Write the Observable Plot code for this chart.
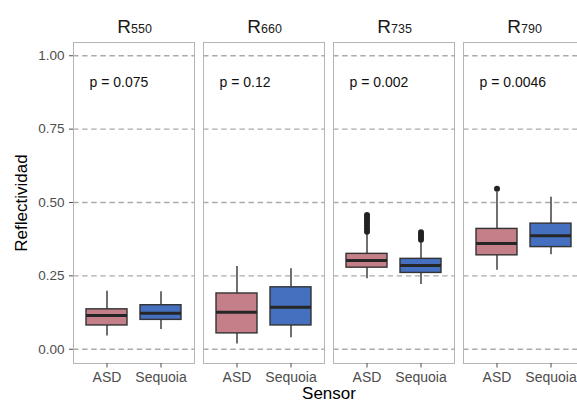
<!DOCTYPE html>
<html>
<head>
<meta charset="utf-8">
<script src="https://cdn.jsdelivr.net/npm/d3@7"></script>
<script src="https://cdn.jsdelivr.net/npm/@observablehq/plot@0.6"></script>
<style>
  html, body { margin: 0; padding: 0; background: #fff; overflow: hidden; width: 577px; height: 403px; }
  #chart { position: relative; width: 590px; }
  #chart svg { max-width: none !important; width: 590px; height: 410px !important; }
</style>
</head>
<body>
<div id="chart"></div>
<script>
// ---- data ----
const panels = ["R550", "R660", "R735", "R790"];
const panelNums = ["550", "660", "735", "790"];
const sensors = ["ASD", "Sequoia"];
const pValues = ["p = 0.075", "p = 0.12", "p = 0.002", "p = 0.0046"];
const yTicks = [0, 0.25, 0.5, 0.75, 1];

// box statistics, order: panel x sensor
const boxPanel  = ["R550", "R550", "R660", "R660", "R735", "R735", "R790", "R790"];
const boxSensor = ["ASD", "Sequoia", "ASD", "Sequoia", "ASD", "Sequoia", "ASD", "Sequoia"];
const whiskLo   = [0.045, 0.067, 0.018, 0.039, 0.240, 0.221, 0.269, 0.322];
const q1        = [0.081, 0.100, 0.054, 0.081, 0.278, 0.260, 0.320, 0.348];
const median    = [0.115, 0.123, 0.126, 0.143, 0.302, 0.285, 0.360, 0.387];
const q3        = [0.136, 0.150, 0.190, 0.211, 0.325, 0.308, 0.410, 0.428];
const whiskHi   = [0.198, 0.196, 0.282, 0.274, 0.394, 0.365, 0.535, 0.518];

// outliers
const outPanel  = ["R735", "R735", "R735", "R735", "R735", "R735", "R735", "R735", "R735", "R735", "R735", "R790"];
const outSensor = ["ASD", "ASD", "ASD", "ASD", "ASD", "ASD", "ASD", "Sequoia", "Sequoia", "Sequoia", "Sequoia", "ASD"];
const outValue  = [0.400, 0.410, 0.420, 0.430, 0.440, 0.450, 0.457, 0.373, 0.382, 0.390, 0.399, 0.547];

const sensorColors = ["#c47f89", "#4470bf"];

// ---- tables built from the arrays ----
const boxes = boxPanel.map((p, i) => ({
  panel: p, sensor: boxSensor[i], lo: whiskLo[i], q1: q1[i], med: median[i], q3: q3[i], hi: whiskHi[i]
}));
const outliers = outPanel.map((p, i) => ({panel: p, sensor: outSensor[i], value: outValue[i]}));

const font = "'Liberation Sans', Arial, sans-serif";

const chart = Plot.plot({
  width: 590,
  height: 410,
  marginLeft: 72,
  marginRight: 5,
  marginTop: 42,
  marginBottom: 47,
  style: {fontFamily: font, fontSize: "13px", background: "white", overflow: "visible", maxWidth: "none"},
  fx: {domain: panels, paddingInner: 0.073, paddingOuter: 0, axis: null, label: null},
  x: {domain: sensors, paddingInner: 0.25, paddingOuter: 0.225, label: null},
  y: {domain: [-0.0486, 1.0452], label: null},
  color: {domain: sensors, range: sensorColors},
  marks: [
    // dashed horizontal gridlines
    Plot.ruleY(yTicks, {stroke: "#ababab", strokeWidth: 1.3, strokeDasharray: "5.5,3.6"}),
    Plot.frame({stroke: "#b5b5b5", strokeWidth: 1}),
    // whiskers
    Plot.ruleX(boxes, {fx: "panel", x: "sensor", y1: "lo", y2: "hi", stroke: "#333333", strokeWidth: 1.4}),
    // boxes
    Plot.barY(boxes, {fx: "panel", x: "sensor", y1: "q1", y2: "q3", fill: "sensor", stroke: "#333333", strokeWidth: 1.4}),
    // medians
    Plot.tickY(boxes, {fx: "panel", x: "sensor", y: "med", stroke: "#262626", strokeWidth: 3}),
    // outliers
    Plot.dot(outliers, {fx: "panel", x: "sensor", y: "value", r: 3, fill: "#222222", stroke: "none"}),
    // p-values
    Plot.text(pValues, {fx: (d, i) => panels[i], text: d => d, frameAnchor: "top-left", textAnchor: "start",
      lineAnchor: "middle", dx: 16, dy: 40, fontSize: 14, fill: "#111111"}),
    // facet titles: "R" + small digits
    Plot.text(panels, {fx: d => d, text: () => "R", frameAnchor: "top", textAnchor: "end", lineAnchor: "bottom",
      dx: -3, dy: -9.5, fontSize: 19, fill: "#1a1a1a"}),
    Plot.text(panels, {fx: d => d, text: (d, i) => panelNums[i], frameAnchor: "top", textAnchor: "start",
      lineAnchor: "bottom", dx: -3, dy: -9.5, fontSize: 12.5, fill: "#1a1a1a"}),
    // axes
    Plot.axisY(yTicks, {tickFormat: d3.format(".2f"), tickSize: 4, tickPadding: 5, fontSize: 13.5,
      color: "#4d4d4d", label: null}),
    Plot.axisX({tickSize: 4.5, tickPadding: 4, fontSize: 14, color: "#4d4d4d", label: null}),
    // axis titles
    Plot.text(["Reflectividad"], {fx: () => panels[0], text: d => d, frameAnchor: "left", rotate: -90,
      textAnchor: "middle", lineAnchor: "middle", dx: -52, fontSize: 17, fill: "#000000"}),
    Plot.text(["Sensor"], {fx: () => panels[1], text: d => d, frameAnchor: "bottom-right", textAnchor: "middle",
      lineAnchor: "bottom", dx: 4.5, dy: 35, fontSize: 17, fill: "#000000"})
  ]
});
document.getElementById("chart").appendChild(chart);
</script>
</body>
</html>
